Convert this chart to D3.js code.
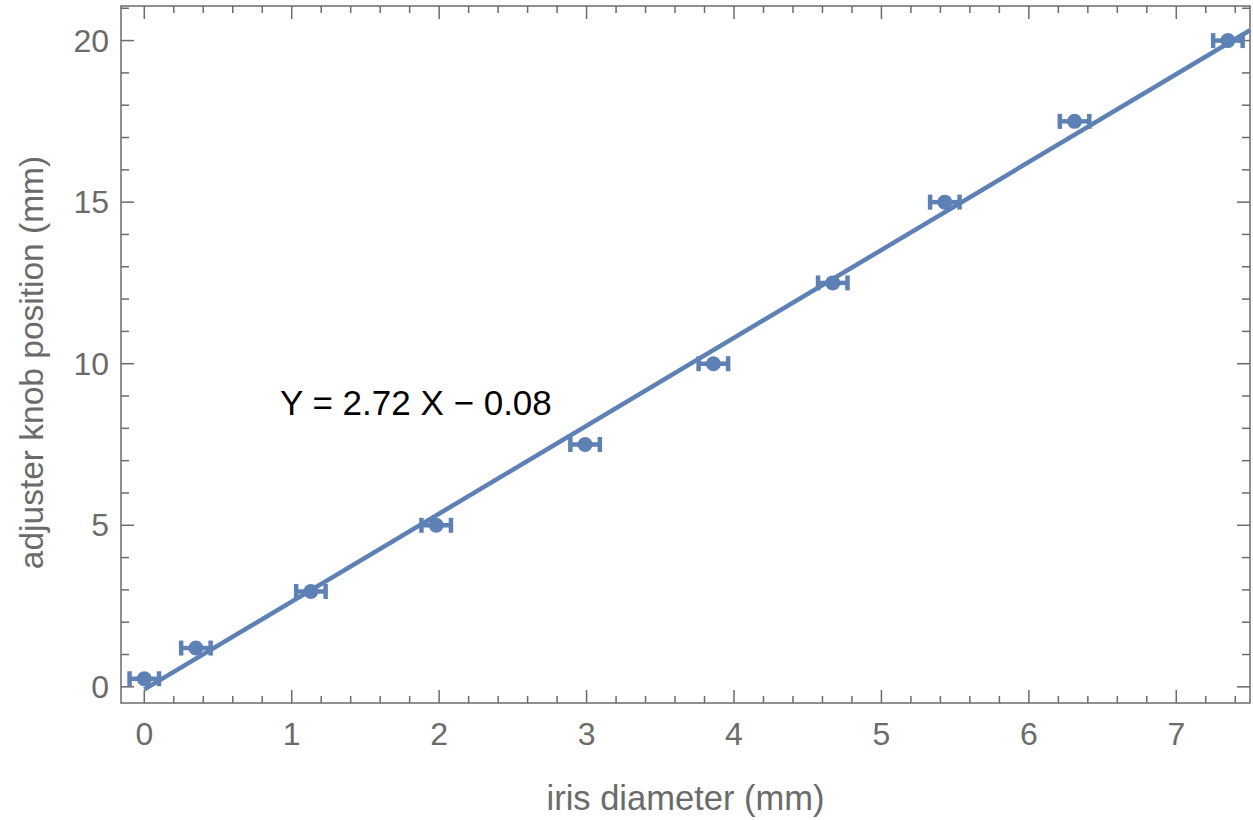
<!DOCTYPE html>
<html>
<head>
<meta charset="utf-8">
<script src="https://cdn.jsdelivr.net/npm/d3@7"></script>
<style>
  body { margin: 0; background: #fff; }
  svg { display: block; font-family: "Liberation Sans", Arial, sans-serif; }
</style>
</head>
<body>
<svg class="svg-main" width="1253" height="820"></svg>
<script>
// measured iris diameter vs knob position
const irisDiameter = [0, 0.35, 1.13, 1.98, 2.99, 3.86, 4.67, 5.43, 6.31, 7.35];
const knobPosition = [0.25, 1.2, 2.95, 5, 7.5, 10, 12.5, 15, 17.5, 20];
const diameterErr = [0.1, 0.1, 0.1, 0.1, 0.1, 0.1, 0.1, 0.1, 0.1, 0.1];
const fitSlope = 2.72;
const fitIntercept = -0.08;
const xTicks = [0, 1, 2, 3, 4, 5, 6, 7];
const yTicks = [0, 5, 10, 15, 20];

const svg = d3.select(".svg-main");
const blue = "#5e81b5";
const gray = "#6b6b6b";

const plotLeft = 121, plotRight = 1250, plotTop = 6, plotBottom = 703;

const x = d3.scaleLinear().domain([-0.158, 7.5]).range([plotLeft, plotRight]);
const y = d3.scaleLinear().domain([-0.5, 21.07]).range([plotBottom, plotTop]);

const xMinor = d3.range(-0.0, 7.6, 0.2).filter(v => Math.abs(v - Math.round(v)) > 1e-6);
const yMinor = d3.range(0, 22, 1).filter(v => v % 5 !== 0);

const frame = svg.append("g").attr("stroke", gray).attr("stroke-width", 1.5);

frame.append("rect")
  .attr("x", plotLeft).attr("y", plotTop)
  .attr("width", plotRight - plotLeft).attr("height", plotBottom - plotTop)
  .attr("fill", "none");

// ticks on all four sides
const xt = xTicks.map(v => ({v, len: 13})).concat(xMinor.map(v => ({v, len: 7})));
frame.selectAll("line.xb").data(xt).enter().append("line")
  .attr("x1", d => x(d.v)).attr("x2", d => x(d.v))
  .attr("y1", plotBottom).attr("y2", d => plotBottom - d.len);
frame.selectAll("line.xt").data(xt).enter().append("line")
  .attr("x1", d => x(d.v)).attr("x2", d => x(d.v))
  .attr("y1", plotTop).attr("y2", d => plotTop + d.len);

const yt = yTicks.map(v => ({v, len: 13})).concat(yMinor.map(v => ({v, len: 8})));
frame.selectAll("line.yl").data(yt).enter().append("line")
  .attr("y1", d => y(d.v)).attr("y2", d => y(d.v))
  .attr("x1", plotLeft).attr("x2", d => plotLeft + d.len);
frame.selectAll("line.yr").data(yt).enter().append("line")
  .attr("y1", d => y(d.v)).attr("y2", d => y(d.v))
  .attr("x1", plotRight).attr("x2", d => plotRight - d.len);

// tick labels
svg.append("g").selectAll("text").data(xTicks).enter().append("text")
  .attr("x", d => x(d)).attr("y", 745)
  .attr("text-anchor", "middle")
  .attr("font-size", 32).attr("fill", gray)
  .text(d => d);

svg.append("g").selectAll("text").data(yTicks).enter().append("text")
  .attr("x", 109).attr("y", d => y(d))
  .attr("dy", "0.35em")
  .attr("text-anchor", "end")
  .attr("font-size", 32).attr("fill", gray)
  .text(d => d);

// axis titles
svg.append("text")
  .attr("x", (plotLeft + plotRight) / 2).attr("y", 810)
  .attr("text-anchor", "middle")
  .attr("font-size", 34.5).attr("fill", gray)
  .text("iris diameter (mm)");

svg.append("text")
  .attr("transform", `translate(43,${(plotTop + plotBottom) / 2 + 8}) rotate(-90)`)
  .attr("text-anchor", "middle")
  .attr("font-size", 33.5).attr("fill", gray)
  .text("adjuster knob position (mm)");

// fit line
const fx0 = 0, fx1 = 7.5;
svg.append("line")
  .attr("x1", x(fx0)).attr("y1", y(fitSlope * fx0 + fitIntercept))
  .attr("x2", x(fx1)).attr("y2", y(fitSlope * fx1 + fitIntercept))
  .attr("stroke", blue).attr("stroke-width", 4.5);

// points with horizontal error bars
const pts = irisDiameter.map((d, i) => ({x: d, y: knobPosition[i], e: diameterErr[i]}));
const g = svg.append("g").attr("stroke", blue).attr("stroke-width", 4.5);
g.selectAll("line.bar").data(pts).enter().append("line")
  .attr("x1", d => x(d.x - d.e)).attr("x2", d => x(d.x + d.e))
  .attr("y1", d => y(d.y)).attr("y2", d => y(d.y));
g.selectAll("line.capl").data(pts).enter().append("line")
  .attr("x1", d => x(d.x - d.e)).attr("x2", d => x(d.x - d.e))
  .attr("y1", d => y(d.y) - 7.5).attr("y2", d => y(d.y) + 7.5);
g.selectAll("line.capr").data(pts).enter().append("line")
  .attr("x1", d => x(d.x + d.e)).attr("x2", d => x(d.x + d.e))
  .attr("y1", d => y(d.y) - 7.5).attr("y2", d => y(d.y) + 7.5);
svg.append("g").selectAll("circle").data(pts).enter().append("circle")
  .attr("cx", d => x(d.x)).attr("cy", d => y(d.y))
  .attr("r", 7.5).attr("fill", blue);

// fit equation
svg.append("text")
  .attr("x", 280).attr("y", 415)
  .attr("font-size", 35).attr("fill", "#000")
  .text("Y = 2.72 X \u2212 0.08");
</script>
</body>
</html>
